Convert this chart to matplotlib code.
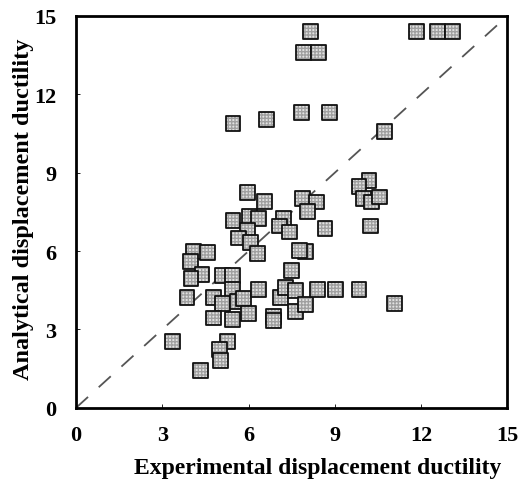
import matplotlib
matplotlib.use('Agg')
import matplotlib.pyplot as plt

# experimental vs analytical displacement ductility
exp_duct = [8.15, 7.9, 8.44, 11.85, 12.57, 13.1, 5.46, 6.63, 7.83, 8.83, 10.73,
            10.19, 9.84, 9.99, 10.27, 10.56, 10.24,
            7.89, 8.36, 8.06, 8.66, 7.98, 7.78, 7.48,
            5.97, 6.55, 5.46, 6.04, 6.35, 5.95, 5.66, 6.06, 6.32, 7.22, 7.08, 7.43,
            4.09, 4.57, 3.97, 4.38, 4.0, 3.86,
            5.11, 5.43, 5.43, 4.78, 5.08, 5.6, 5.83, 6.35, 4.78, 5.43, 6.0,
            7.11, 6.88, 6.88, 7.28, 7.63, 7.63, 7.98, 8.41, 9.02, 9.84, 11.08,
            3.36, 5.27, 4.99, 5.02, 4.32]
ana_duct = [14.4, 13.6, 13.6, 14.4, 14.4, 14.4, 10.9, 11.05, 11.3, 11.3, 10.57,
            8.71, 8.48, 8.0, 7.88, 8.07, 6.96,
            8.0, 7.88, 7.52, 6.88, 5.97, 6.03, 5.26,
            8.24, 7.9, 7.18, 7.34, 7.24, 6.79, 6.5, 6.32, 5.9, 7.24, 6.96, 6.73,
            6.0, 5.94, 5.6, 5.1, 4.95, 4.24,
            5.07, 5.07, 4.53, 4.24, 3.98, 4.07, 4.18, 4.52, 3.44, 3.38, 3.62,
            4.24, 3.51, 3.35, 4.62, 4.49, 3.69, 3.95, 4.52, 4.52, 4.53, 3.98,
            2.54, 2.54, 2.22, 1.81, 1.43]

ticks = [0, 3, 6, 9, 12, 15]

plt.rcParams['font.family'] = ['Liberation Serif', 'DejaVu Serif']
plt.rcParams['font.weight'] = 'bold'

fig = plt.figure(figsize=(5.26, 4.85), dpi=100)
ax = fig.add_axes([0.1445, 0.157, 0.82, 0.808])

# 1:1 line
ax.plot([0, 15], [0, 15], color='#555555', lw=1.3, dashes=(9, 8), zorder=1)

for i, (x, y) in enumerate(zip(exp_duct, ana_duct)):
    ax.scatter(x, y, marker='s', s=115, facecolor='#e2e2e2', edgecolor='#a0a0a0',
               hatch='+++++', linewidth=0, zorder=2 + 2 * i)
    ax.scatter(x, y, marker='s', s=115, facecolor='none', edgecolor='#111111',
               linewidth=1.3, zorder=3 + 2 * i)

ax.set_xlim(0, 15)
ax.set_ylim(0, 15)
ax.set_xticks(ticks)
ax.set_yticks(ticks)
ax.tick_params(direction='in', length=3, width=0.6, labelsize=16)
ax.tick_params(axis='x', pad=12)
ax.tick_params(axis='y', pad=14)
for sp in ax.spines.values():
    sp.set_linewidth(2)

ax.set_xlabel('Experimental displacement ductility', fontsize=17, fontweight='bold')
ax.set_ylabel('Analytical displacement ductility', fontsize=17.5, fontweight='bold')
ax.xaxis.set_label_coords(0.56, -0.125)
ax.yaxis.set_label_coords(-0.097, 0.51)

fig.savefig('out.png', dpi=100)
